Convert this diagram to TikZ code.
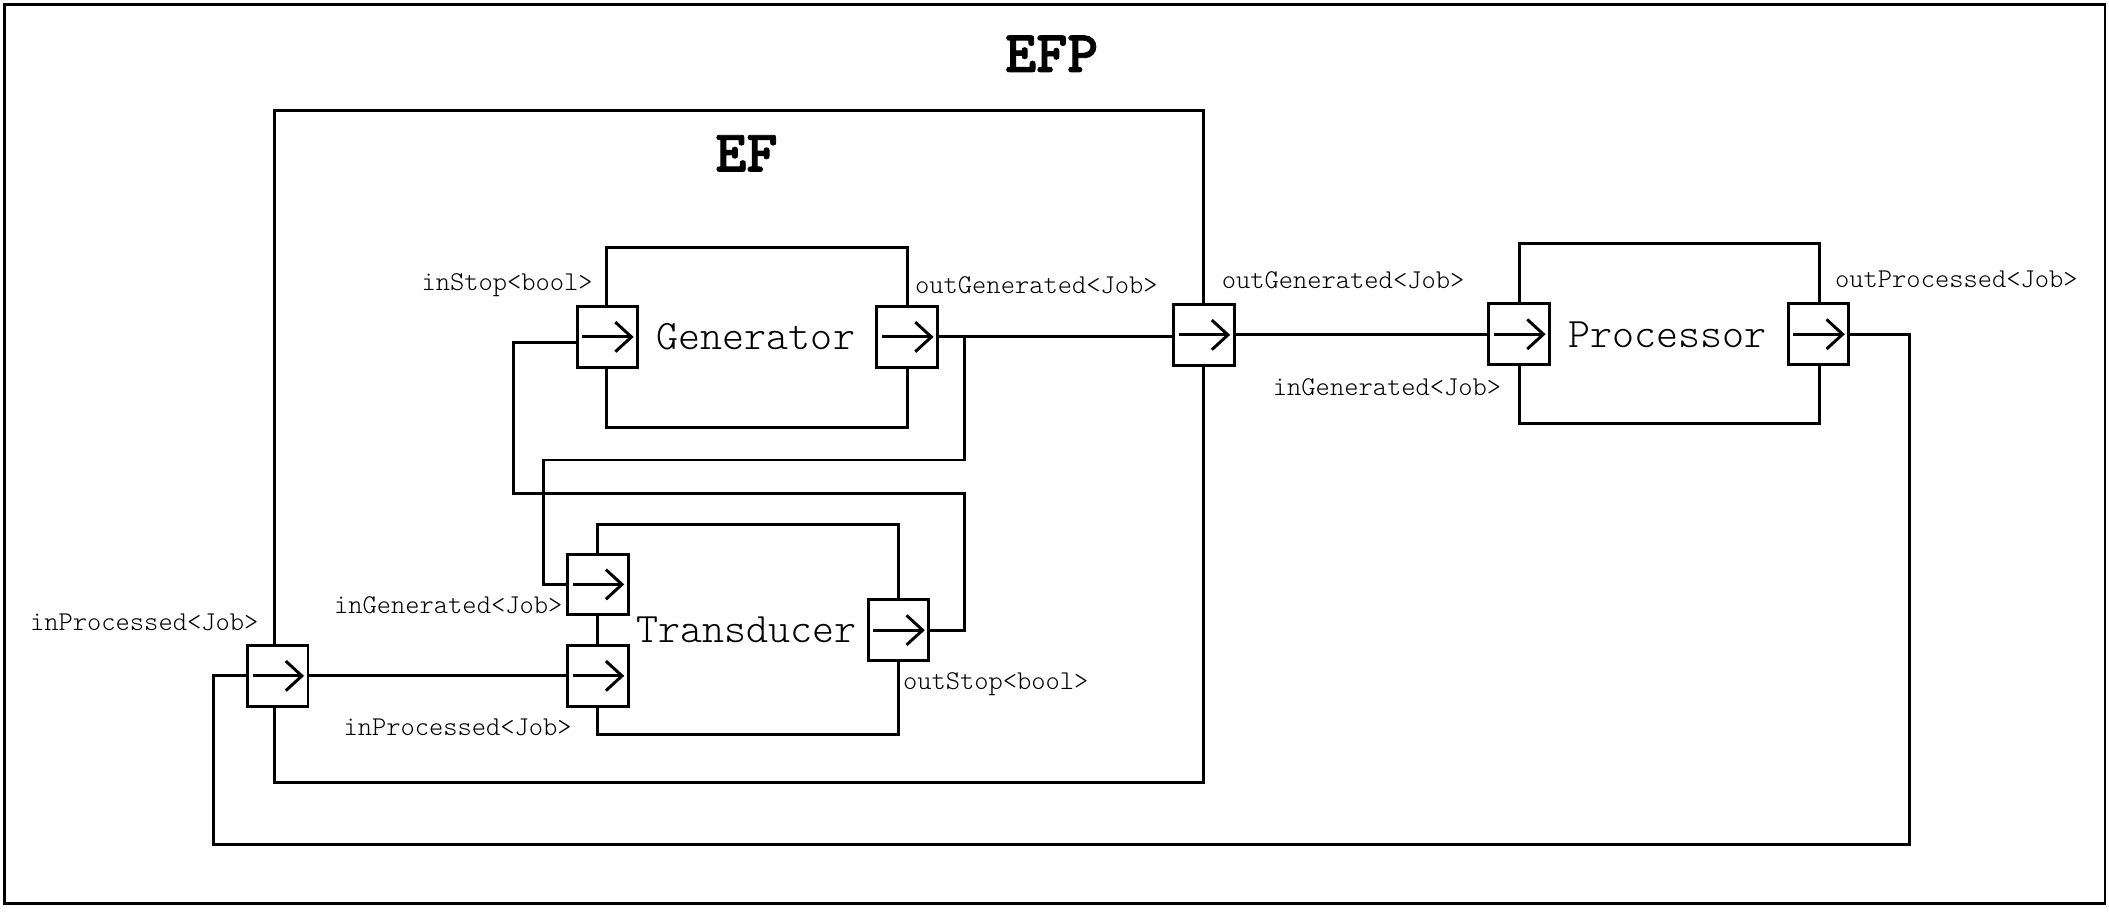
\documentclass[tikz,border=0pt]{standalone}
\usepackage{fontspec}
\usetikzlibrary{arrows.meta}
\newfontfamily\lighttt{lmmonolt10-regular.otf}
\newfontfamily\heavytt{lmmonolt10-bold.otf}[FakeBold=1.6]
\tikzset{
  x=0.5pt, y=-0.5pt,
  wire/.style={line width=1.1pt, line join=miter},
  frm/.style={draw, line width=1.1pt, inner sep=0pt},
  port/.style={draw, fill=white, line width=1.1pt, minimum width=22.5pt, minimum height=22.5pt, inner sep=0pt},
  portarrow/.style={line width=1.1pt, -{Straight Barb[length=6pt,width=11pt,line width=1.1pt]}},
  lbl/.style={anchor=west, inner sep=0pt, font=\lighttt\fontsize{10.1}{12}\selectfont},
  compname/.style={inner sep=0pt, font=\lighttt\fontsize{15.6}{18}\selectfont},
  ttitle/.style={inner sep=0pt, font=\heavytt\fontsize{22}{26}\selectfont},
}
\begin{document}
\begin{tikzpicture}
\useasboundingbox (0,0) rectangle (1568,678);
% frames
\node[frm, minimum width=781pt, minimum height=334.5pt] (efp) at (784,337.5) {};
\node[ttitle] (efpT) at (782,40) {EFP};
\node[frm, minimum width=345.5pt, minimum height=250pt] (ef) at (549.5,332) {};
\node[ttitle] (efT) at (555,114) {EF};
\node[frm, minimum width=112pt, minimum height=67pt] (gen) at (563,251) {};
\node[compname] (genT) at (562,250) {Generator};
\node[frm, minimum width=112pt, minimum height=78pt] (tra) at (556,468) {};
\node[compname] (traT) at (555,468) {Transducer};
\node[frm, minimum width=111.5pt, minimum height=67pt] (pro) at (1241.5,248) {};
\node[compname] (proT) at (1240,249) {Processor};
% ports
\node[port] (gin) at (451.5,250.5) {};
\node[port] (gout) at (674.5,250.5) {};
\node[port] (efout) at (895,249) {};
\node[port] (pin) at (1129.5,248.5) {};
\node[port] (pout) at (1352,248.5) {};
\node[port] (tig) at (444.5,434.5) {};
\node[port] (tip) at (444.5,502.5) {};
\node[port] (tos) at (668,468.5) {};
\node[port] (efin) at (206.5,502.5) {};
\foreach \p in {gin,gout,efout,pin,pout,tig,tip,tos,efin}
  \draw[portarrow] ([xshift=2.5pt]\p.west) -- ([xshift=-2pt]\p.east);
% wire coordinates
\coordinate (brA) at (717,342);
\coordinate (brB) at (404,342);
\coordinate (stA) at (717,367);
\coordinate (stB) at (382,367);
\coordinate (fbA) at (1420,628);
\coordinate (fbB) at (159,628);
% wires
\draw[wire] (gout.east) -- (gout.east -| efout.west);
\draw[wire] (efout.east) -- (efout.east -| pin.west);
\draw[wire] (gout.east -| brA) -- (brA) -- (brB) |- (tig.west);
\draw[wire] (tos.east) -| (stA) -- (stB) |- ([yshift=-2.25pt]gin.west);
\draw[wire] (efin.east) -- (tip.west);
\draw[wire] (pout.east) -| (fbA) -- (fbB) |- (efin.west);
% labels
\node[lbl] (l1) at (313,212) {inStop<bool>};
\node[lbl] (l2) at (680,212) {outGenerated<Job>};
\node[lbl] (l3) at (908,208) {outGenerated<Job>};
\node[lbl] (l4) at (1364,208) {outProcessed<Job>};
\node[lbl] (l5) at (946,288) {inGenerated<Job>};
\node[lbl] (l6) at (22,463) {inProcessed<Job>};
\node[lbl] (l7) at (248,450) {inGenerated<Job>};
\node[lbl] (l8) at (255,541) {inProcessed<Job>};
\node[lbl] (l9) at (671,509) {outStop<bool>};
\end{tikzpicture}
\end{document}
